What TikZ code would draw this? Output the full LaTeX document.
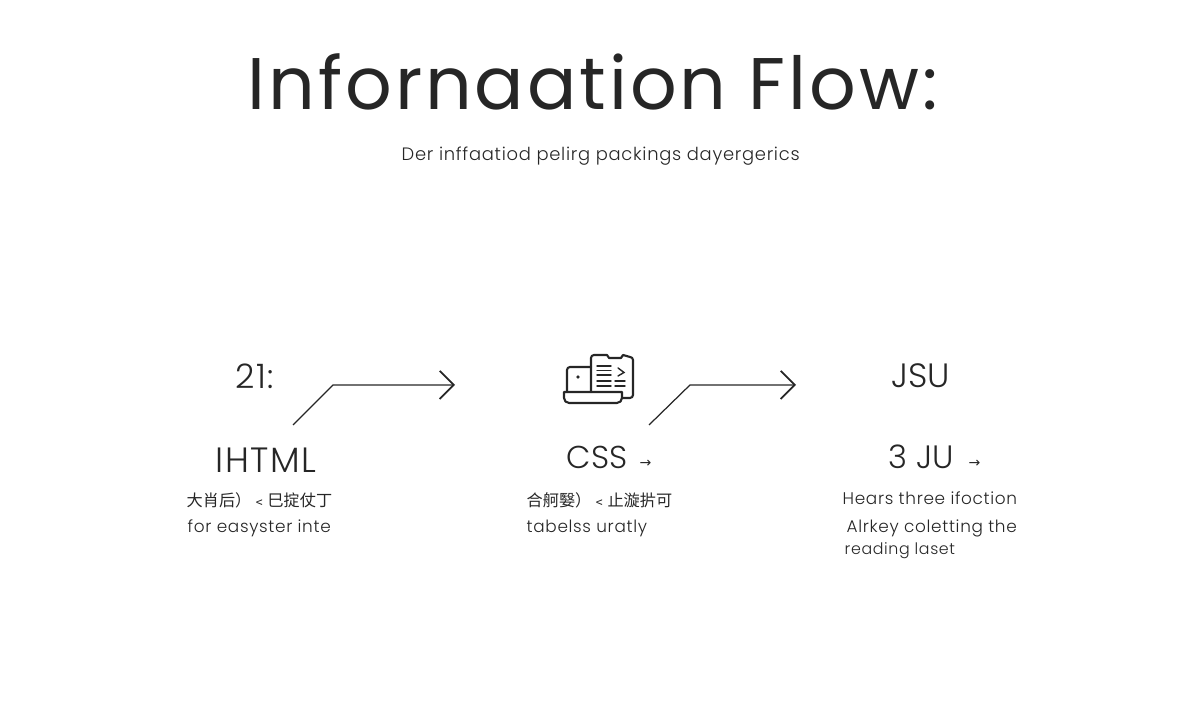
\documentclass[tikz,border=0pt]{standalone}
\usepackage{fontspec}
\setmainfont[UprightFont=* Light,LetterSpace=4]{Poppins}
\newfontfamily\titlefont[LetterSpace=4]{Poppins}
\newfontfamily\tightfont[UprightFont=* Light]{Poppins}
\newfontfamily\cjkfont{Noto Sans CJK SC}
\newfontfamily\arrowfont{DejaVu Sans}
\usetikzlibrary{arrows.meta}
\definecolor{inkdark}{HTML}{262626}
\tikzstyle{bigtitle} = [anchor=base west, inner sep=0pt, text=inkdark, font=\fontsize{20.8}{26}\titlefont]
\tikzstyle{subtitle} = [anchor=west, inner sep=0pt, text=inkdark, font=\fontsize{5.1}{7}\selectfont]
\tikzstyle{headlabel} = [anchor=west, inner sep=0pt, text=inkdark, font=\fontsize{9.6}{12}\selectfont]
\tikzstyle{tightlabel} = [anchor=west, inner sep=0pt, text=inkdark, font=\fontsize{9.2}{12}\tightfont]
\tikzstyle{bodylabel} = [anchor=west, inner sep=0pt, text=inkdark, font=\fontsize{4.8}{6}\selectfont]
\tikzstyle{cjklabel} = [anchor=west, inner sep=0pt, text=inkdark, font=\fontsize{4.6}{6}\cjkfont]
\tikzstyle{smallarrow} = [anchor=west, inner sep=0pt, text=inkdark, font=\fontsize{4}{5}\arrowfont]
\tikzstyle{flowarrow} = [draw=inkdark, line width=0.35pt, -{Straight Barb[length=4pt,width=8pt,line width=0.5pt]}]
\tikzstyle{iconline} = [draw=inkdark, line width=0.6pt, line join=round, line cap=round]
\tikzstyle{iconthin} = [draw=inkdark, line width=0.4pt, line cap=round]
\begin{document}
\begin{tikzpicture}
\useasboundingbox (0,0) rectangle (12,7.2);

\node[bigtitle] (title) at (2.47,6.1) {Infornaation Flow:};
\node[subtitle] (sub) at (4.01,5.64) {Der inffaatiod pelirg packings dayergerics};

% left column
\node[headlabel] (num) at (2.35,3.44) {21:};
\node[headlabel,font=\fontsize{10}{12}\selectfont] (html) at (2.15,2.6) {IHTML};
\node[cjklabel] (htmla) at (1.86,2.2) {大肖后）﹤巳掟仗丁};
\node[bodylabel] (htmlb) at (1.87,1.92) {for easyster inte};

% middle column
\node[tightlabel,font=\fontsize{9}{12}\tightfont] (css) at (5.66,2.63) {CSS};
\node[smallarrow] (cssto) at (6.39,2.56) {→};
\node[cjklabel] (cssa) at (5.26,2.2) {合舸嫛）﹤止漩扸可};
\node[bodylabel] (cssb) at (5.26,1.92) {tabelss uratly};

% right column
\node[tightlabel,font=\fontsize{9.6}{12}\tightfont] (jsu) at (8.91,3.44) {JSU};
\node[tightlabel] (ju) at (8.88,2.63) {3 JU};
\node[smallarrow] (juto) at (9.68,2.56) {→};
\node[bodylabel] (jua) at (8.42,2.22) {Hears three ifoction};
\node[bodylabel] (jub) at (8.46,1.92) {Alrkey coletting the};
\node[bodylabel,font=\fontsize{4.5}{6}\selectfont] (juc) at (8.44,1.69) {reading laset};

% connectors
\coordinate (startl) at (2.93,2.95);
\coordinate (bendl) at (3.33,3.35);
\coordinate (endl) at (4.55,3.35);
\coordinate (startr) at (6.49,2.95);
\coordinate (bendr) at (6.9,3.35);
\coordinate (endr) at (7.96,3.35);
\draw[flowarrow] (startl)--(bendl)--(endl);
\draw[flowarrow] (startr)--(bendr)--(endr);

% icon
\draw[iconline] (5.91,3.53)--(5.7,3.53) to[out=180,in=90](5.67,3.5)--(5.67,3.28);
\draw[iconline] (5.64,3.28)--(6.22,3.28)--(6.22,3.22) to[out=270,in=0](6.17,3.17)--(5.69,3.17) to[out=180,in=270](5.64,3.22)--cycle;
\draw[iconline] (5.91,3.28)--(5.91,3.62) to[out=90,in=180](5.94,3.65)--(6.07,3.65)--(6.09,3.62)--(6.21,3.62)--(6.23,3.65)--(6.3,3.63) to[out=0,in=90](6.33,3.6)--(6.33,3.25) to[out=270,in=0](6.3,3.22)--(6.22,3.22);
\draw[iconthin] (5.97,3.54)--(6.11,3.54) (5.97,3.495)--(6.11,3.495) (5.97,3.45)--(6.11,3.45);
\draw[iconthin] (6.18,3.52)--(6.24,3.475)--(6.18,3.44);
\draw[iconthin] (5.97,3.39)--(6.11,3.39) (5.97,3.34)--(6.11,3.34) (6.15,3.39)--(6.25,3.39) (6.15,3.34)--(6.25,3.34);
\draw[iconthin] (5.77,3.43)--(5.79,3.43) (5.78,3.42)--(5.78,3.44);
\end{tikzpicture}
\end{document}
